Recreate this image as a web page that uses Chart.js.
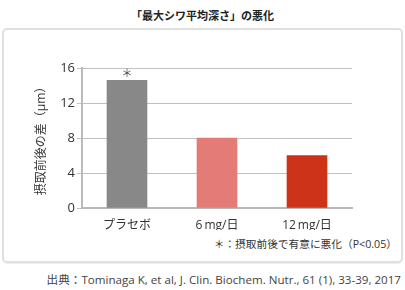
<!DOCTYPE html>
<html><head><meta charset="utf-8">
<script src="https://cdn.jsdelivr.net/npm/chart.js@4/dist/chart.umd.min.js"></script>
<style>
html,body{margin:0;padding:0;width:405px;height:290px;background:#fff;overflow:hidden;font-family:"Open Sans","Noto Sans CJK JP",sans-serif;color:#333;}
#title{position:absolute;left:0;top:7px;width:405px;text-align:center;font-size:11px;font-weight:bold;color:#222;font-family:"Noto Sans CJK JP",sans-serif;}
#box{position:absolute;left:2px;top:28px;width:397px;height:231px;border:2px solid #e0e0e0;border-radius:5px;box-shadow:0 1px 1px rgba(0,0,0,0.08);}
#cv{position:absolute;left:0;top:30px;}
#note{position:absolute;right:8px;top:236px;font-size:10.7px;color:#333;white-space:nowrap;}
#src{position:absolute;right:4px;top:271px;font-size:11.6px;color:#444;white-space:nowrap;}
</style></head><body>
<div id="title">「最大シワ平均深さ」の悪化</div>
<div id="box"></div>
<canvas id="cv" width="405" height="200" style="width:405px;height:200px"></canvas>
<div id="note">＊：摂取前後で有意に悪化（P&lt;0.05）</div>
<div id="src">出典：Tominaga K, et al, J. Clin. Biochem. Nutr., 61 (1), 33-39, 2017</div>
<script>
const categories = ["プラセボ", "6\u2009mg/日", "12\u2009mg/日"];
const values = [14.6, 8.0, 6.0];
const barColors = ["#888888", "#e57b76", "#cc3318"];
const significance = ["＊", "", ""];
const yTicks = [0, 4, 8, 12, 16];
const yTitle = "摂取前後の差（μm）";
const FONT = '"Open Sans", "Noto Sans CJK JP", sans-serif';

const starPlugin = {
  id: 'star',
  afterDatasetsDraw(chart) {
    const ctx = chart.ctx;
    const meta = chart.getDatasetMeta(0);
    ctx.save();
    ctx.font = '11px "Noto Sans CJK JP"';
    ctx.fillStyle = '#444';
    ctx.textAlign = 'center';
    ctx.textBaseline = 'middle';
    meta.data.forEach((bar, i) => {
      if (significance[i]) ctx.fillText(significance[i], bar.x, bar.y - 7);
    });
    ctx.restore();
  }
};

new Chart(document.getElementById('cv'), {
  type: 'bar',
  data: { labels: categories, datasets: [{ data: values, backgroundColor: barColors, barThickness: 40 }] },
  options: {
    responsive: false, animation: false,
    layout: { padding: { top: 38, right: 53, left: 0, bottom: 0 } },
    plugins: { legend: { display: false }, tooltip: { enabled: false } },
    scales: {
      x: {
        grid: { display: false },
        border: { display: true, color: '#b8b8b8', width: 2 },
        ticks: { color: '#333', font: { family: FONT, size: 12 }, padding: 2 },
        afterFit(s) { s.height = 22; }
      },
      y: {
        min: 0, max: 16,
        afterBuildTicks(s) { s.ticks = yTicks.map(v => ({ value: v })); },
        grid: { color: '#c0c0c0', lineWidth: 1, tickLength: 5, drawTicks: true },
        border: { display: true, color: '#bbbbbb', width: 2 },
        ticks: { color: '#333', font: { family: FONT, size: 13 }, padding: 2 },
        title: { display: true, text: yTitle, color: '#333', font: { family: FONT, size: 12 }, padding: { top: 34, bottom: 0 } },
        afterFit(s) { s.width = 82; }
      }
    }
  },
  plugins: [starPlugin]
});
</script>
</body></html>
